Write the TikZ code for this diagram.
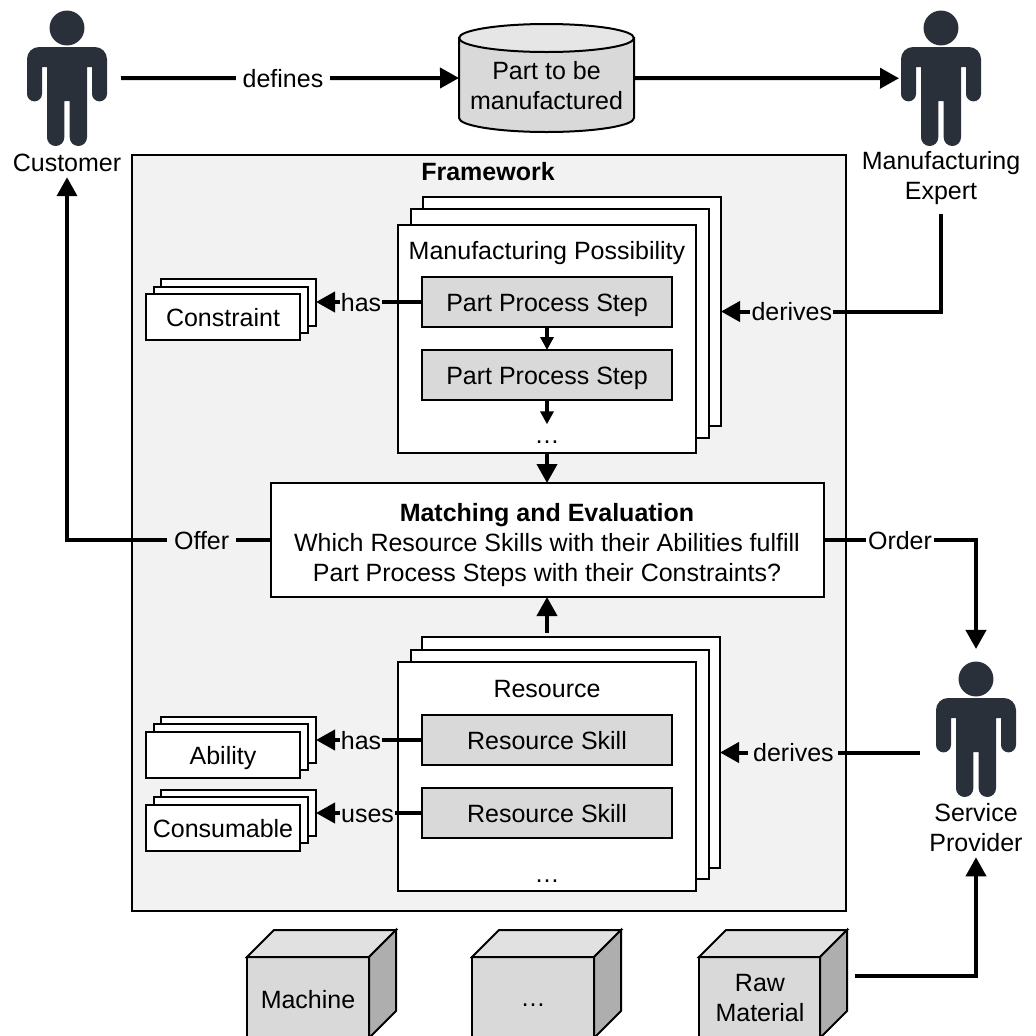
\documentclass[tikz,border=0pt]{standalone}
\usepackage{fontspec}
\setmainfont{Liberation Sans}
\usetikzlibrary{arrows.meta}
\definecolor{framefill}{HTML}{F2F2F2}
\definecolor{greyfill}{HTML}{D9D9D9}
\definecolor{cubetop}{HTML}{E1E1E1}
\definecolor{cubeside}{HTML}{AEAEAE}
\definecolor{cyltop}{HTML}{E6E6E6}
\definecolor{personcol}{HTML}{2A3039}
\newcommand{\boxat}[7]{%
  \node[#2, minimum width={(#5-#3)*0.75pt}, minimum height={(#6-#4)*0.75pt}]
    (#1) at ({(#3+#5)/2},{(#4+#6)/2}) {#7};}
\newcommand{\cubeat}[2]{%
  \draw[outline, fill=greyfill] (#1,957) rectangle (#2,1045);
  \draw[outline, fill=cubetop] (#1,957) -- ({#1+27},930) -- ({#2+27},930) -- (#2,957) -- cycle;
  \draw[outline, fill=cubeside] (#2,957) -- ({#2+27},930) -- ({#2+27},1011) -- (#2,1038) -- cycle;}
\tikzset{
  every node/.style={font=\fontsize{18.75pt}{22.5pt}\selectfont, inner sep=0pt, outer sep=0pt},
  outline/.style={draw=black, line width=1.5pt},
  whitebox/.style={outline, fill=white, text height=14.5pt, text depth=0pt},
  greybox/.style={outline, fill=greyfill, text height=14.5pt, text depth=0pt},
  caption/.style={text height=14pt, text depth=0pt, anchor=base},
  multiline/.style={align=center},
  conn/.style={line width=3pt},
  bigtip/.style={conn, -{Triangle[length=14.25pt, width=15pt]}},
  smalltip/.style={conn, -{Triangle[length=9.75pt, width=9.75pt]}},
  wlabel/.style={fill=white, text height=14pt, text depth=0pt},
  glabel/.style={fill=framefill, text height=14pt, text depth=0pt},
  personshape/.pic={
    \fill[personcol] (0,0) circle [radius=13.1pt];
    \fill[personcol] (-25,39) -- (-20,39) -- (-20,109.4)
      .. controls (-20,114.2) and (-16.1,118) .. (-11.35,118)
      .. controls (-6.6,118) and (-2.7,114.2) .. (-2.7,109.4)
      -- (-2.7,73) -- (2.7,73) -- (2.7,109.4)
      .. controls (2.7,114.2) and (6.6,118) .. (11.35,118)
      .. controls (16.1,118) and (20,114.2) .. (20,109.4)
      -- (20,39) -- (25,39) -- (25,65.9)
      .. controls (25,70) and (28.4,73.4) .. (32.5,73.4)
      .. controls (36.6,73.4) and (40,70) .. (40,65.9)
      -- (40,31) .. controls (40,24.4) and (34.6,19) .. (28,19)
      -- (-28,19) .. controls (-34.6,19) and (-40,24.4) .. (-40,31)
      -- (-40,65.9)
      .. controls (-40,70) and (-36.6,73.4) .. (-32.5,73.4)
      .. controls (-28.4,73.4) and (-25,70) .. (-25,65.9) -- cycle;
  }
}
\begin{document}
\begin{tikzpicture}[x=0.75pt, y=-0.75pt]
\path[use as bounding box, clip] (0,0) rectangle (1036,1036);
\fill[white] (0,0) rectangle (1036,1036);

% framework
\boxat{frame}{outline, fill=framefill}{132}{155}{846}{910.5}{}
\node[caption] (frametitle) at (488,180) {\bfseries Framework};

% persons
\pic at (67,28) {personshape};
\pic at (941,28) {personshape};
\pic at (976,679) {personshape};
\boxat{customer}{}{27}{10.5}{107}{146}{}
\boxat{expert}{}{901}{10.5}{981}{146}{}
\boxat{service}{}{936}{661.5}{1016}{797}{}
\node[anchor=base] (customerlbl) at (67,171) {Customer};
\node[multiline, anchor=south] (expertlbl) at (941,204.2) {Manufacturing\\Expert};
\node[multiline, anchor=south] (servicelbl) at (976,851.7) {Service\\Provider};

% part cylinder
\draw[outline, fill=greyfill] (459,38) -- (459,118)
  .. controls (459,125.7) and (498.2,132) .. (546.5,132)
  .. controls (594.8,132) and (634,125.7) .. (634,118) -- (634,38) -- cycle;
\draw[outline, fill=cyltop] (546.5,38) ellipse [x radius=65.6pt, y radius=10.5pt];
\boxat{part}{}{459}{24}{634}{132}{}
\node[multiline] (parttext) at (546.5,86) {Part to be\\manufactured};

% manufacturing possibility stack
\boxat{mfgback}{whitebox}{423}{197}{721}{426}{}
\boxat{mfgmid}{whitebox}{411}{209}{709}{438}{}
\boxat{mfgfront}{whitebox}{398}{225}{696}{453}{}
\node[caption] (mfgtitle) at (547,259.5) {Manufacturing Possibility};
\boxat{stepa}{greybox}{422}{277}{672}{327}{Part Process Step}
\boxat{stepb}{greybox}{422}{350}{672}{400}{Part Process Step}
\node[caption] (dotsa) at (547,443) {…};

% constraint stack
\boxat{conback}{whitebox}{161}{279}{316}{326}{}
\boxat{conmid}{whitebox}{154}{287}{308}{333}{}
\boxat{confront}{whitebox}{146}{294}{300}{340}{Constraint}

% matching box
\boxat{match}{outline, fill=white}{271}{483}{824}{597}{}
\node[multiline] (matchtext) at (547,545) {\bfseries Matching and Evaluation\\Which Resource Skills with their Abilities fulfill\\Part Process Steps with their Constraints?};

% resource stack
\boxat{resback}{whitebox}{422}{637}{720}{868}{}
\boxat{resmid}{whitebox}{411}{650}{709}{879}{}
\boxat{resfront}{whitebox}{398}{662}{696}{891}{}
\node[caption] (restitle) at (547,697) {Resource};
\boxat{skilla}{greybox}{422}{715}{672}{765}{Resource Skill}
\boxat{skillb}{greybox}{422}{788}{672}{838}{Resource Skill}
\node[caption] (dotsb) at (547,882.7) {…};

% ability and consumable stacks
\boxat{abiback}{whitebox}{161}{717}{316}{763}{}
\boxat{abimid}{whitebox}{154}{724}{308}{770}{}
\boxat{abifront}{whitebox}{146}{732}{300}{778}{Ability}
\boxat{cnsback}{whitebox}{161}{790}{316}{836}{}
\boxat{cnsmid}{whitebox}{154}{797}{308}{843}{}
\boxat{cnsfront}{whitebox}{146}{805}{300}{851}{Consumable}

% cubes
\cubeat{247}{369}
\cubeat{472}{594}
\cubeat{699}{820}
\boxat{machine}{}{247}{930}{396}{1022}{}
\boxat{othercube}{}{472}{930}{621}{1022}{}
\boxat{rawm}{}{699}{930}{847}{1022}{}
\node[anchor=base] (machinetext) at (308,1008) {Machine};
\node[anchor=base] (othertext) at (533,1006.7) {…};
\node[multiline, anchor=south] (rawtext) at (760,1021.7) {Raw\\Material};

% connectors
\draw[bigtip, shorten <=10.5pt] (customer.east) -- node[wlabel, pos=0.5, inner xsep=5.25pt] (deflbl) {defines} (part.west);
\draw[bigtip, shorten >=1.5pt] (part.east) -- (expert.west);
\draw[bigtip, shorten >=4.5pt] (match.west) -- node[glabel, pos=0.34, inner xsep=5.25pt] (offerlbl) {Offer} (customerlbl.south |- match.west) -- (customerlbl.south);
\draw[bigtip, shorten >=9.4pt] (match.east) -- node[wlabel, pos=0.5, inner xsep=1.5pt] (orderlbl) {Order} (service.north |- match.east) -- (service.north);
\draw[bigtip, shorten <=7.5pt] (expertlbl.south) -- (expertlbl.south |- mfgback.east) -- node[glabel, pos=0.678, inner xsep=0.8pt] (derivea) {derives} (mfgback.east);
\draw[bigtip, shorten <=12pt] (service.west |- resback.east) -- node[glabel, pos=0.66, inner xsep=3.5pt] (deriveb) {derives} (resback.east);
\draw[bigtip] (stepa.west) -- node[glabel, pos=0.575, inner xsep=0.8pt] (hasa) {has} (stepa.west -| conback.east);
\draw[bigtip] (skilla.west) -- node[glabel, pos=0.575, inner xsep=0.8pt] (hasb) {has} (skilla.west -| abiback.east);
\draw[bigtip] (skillb.west) -- node[glabel, pos=0.514, inner xsep=0.8pt] (useslbl) {uses} (skillb.west -| cnsback.east);
\draw[smalltip] (stepa.south) -- (stepa.south |- stepb.north);
\draw[smalltip] (stepb.south) -- (stepb.south |- dotsa.north);
\draw[bigtip] (mfgfront.south) -- (mfgfront.south |- match.north);
\draw[bigtip, shorten <=3pt] (resfront.north |- resback.north) -- (resfront.north |- match.south);
\draw[bigtip, shorten <=6pt, shorten >=4.2pt] (rawm.east) -- (rawm.east -| servicelbl.south) -- (servicelbl.south);
\end{tikzpicture}
\end{document}
